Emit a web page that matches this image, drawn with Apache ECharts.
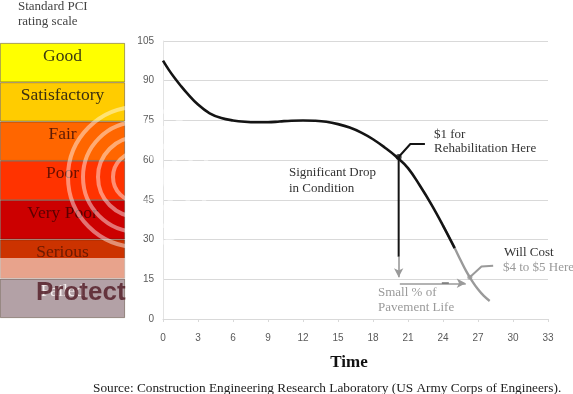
<!DOCTYPE html>
<html><head><meta charset="utf-8">
<script src="https://cdn.jsdelivr.net/npm/echarts@6/dist/echarts.min.js"></script>
<style>html,body{margin:0;padding:0;background:#fff}#c{width:573px;height:394px}</style>
</head><body><div id="c"></div>
<script>
// --- data ---
const timeValues = [0,0.5,1,1.5,2,3,4,5,6,7,8,9,10,11,12,13,14,15,16,17,18,19,20,21,22,23,24,25,25.5,26,26.5,27,27.5,28];
const pciValues  = [97.6,94.1,91,88.2,85.6,81,77.7,75.9,75,74.5,74.3,74.3,74.6,74.9,75,74.9,74.5,73.6,72.3,70.4,67.9,64.8,61.3,57,50.5,43.3,35.3,26.8,22.3,18,14.3,11.2,8.7,6.8];
const ratingLabels = ['Good','Satisfactory','Fair','Poor','Very Poor','Serious','Failed'];
const ratingSpan   = [1,1,1,1,1,1,1];
const rehabPoint   = [20.2, 61.2];
const costPoint    = [26.3, 15.8];
const lifeArrowY   = 13.5;
const dropArrowEnd = 15.8;
const grayFrom     = 25;   // curve turns grey after this time

// --- styles ---
const ratingColors = ['#ffff00','#ffcc00','#ff6600','#ff3300','#cc0000','#cc3300','#b3a1a6'];
const ratingText   = ['#3b3b10','#3b2f10','#5a1a05','#6a1000','#5a0000','#6a1a00','#f6eeee'];
const serif = '"Liberation Serif", "Times New Roman", serif';
const sans = '"Liberation Sans", Arial, sans-serif';

const chart = echarts.init(document.getElementById('c'), null, {renderer:'canvas'});

function txt(text, x, y, size, color){
  return {type:'text', x:x, y:y, z:100, silent:true,
    style:{text:text, font:size+'px '+serif, fill:color, align:'left', verticalAlign:'middle'}};
}

const curve = timeValues.map((t,i)=>[t, pciValues[i]]);
const blackPart = curve.filter(p=>p[0] <= grayFrom);
const grayPart = curve.filter(p=>p[0] >= grayFrom - 1);

const option = {
  animation:false,
  backgroundColor:'#ffffff',
  grid:[
    {left:163, right:25, top:41, bottom:75},
    {left:0, top:43, width:125, height:275}
  ],
  xAxis:[
    {type:'value', gridIndex:0, min:0, max:33, interval:3,
     axisLine:{show:true, onZero:false, lineStyle:{color:'#d9d9d9'}},
     axisTick:{show:true, length:3, lineStyle:{color:'#d9d9d9'}},
     splitLine:{show:false},
     axisLabel:{color:'#5a5a5a', fontSize:10, margin:14, fontFamily:sans}},
    {type:'value', gridIndex:1, min:0, max:1, show:false}
  ],
  yAxis:[
    {type:'value', gridIndex:0, min:0, max:105, interval:15,
     axisLine:{show:true, lineStyle:{color:'#e3e3e3'}},
     axisTick:{show:false},
     splitLine:{show:true, lineStyle:{color:'#d9d9d9', width:1}},
     axisLabel:{color:'#5a5a5a', fontSize:10, margin:9, fontFamily:sans}},
    {type:'category', gridIndex:1, data:ratingLabels, inverse:true, show:false}
  ],
  series:[
    {type:'bar', xAxisIndex:1, yAxisIndex:1, barWidth:'100%', silent:true,
     data: ratingSpan.map((v,i)=>({value:v, itemStyle:{color:ratingColors[i]},
       label:{color:ratingText[i]}})),
     itemStyle:{borderColor:'rgba(60,40,20,0.55)', borderWidth:0.8},
     label:{show:true, position:'insideTop', distance:4, formatter:p=>p.name,
       fontFamily:serif, fontSize:17.5}},
    {type:'line', xAxisIndex:0, yAxisIndex:0, smooth:0.4, showSymbol:false, silent:true, z:2,
     data: grayPart, lineStyle:{width:2.4, color:'#9a9a9a'}},
    {type:'line', xAxisIndex:0, yAxisIndex:0, smooth:0.4, showSymbol:false, silent:true, z:3,
     data: blackPart, lineStyle:{width:2.6, color:'#141414'}},
    {type:'line', showSymbol:false, silent:true, z:3,
     data:[[rehabPoint[0], rehabPoint[1]],[rehabPoint[0], 23.5]],
     lineStyle:{color:'#141414', width:2},
     markLine:{silent:true, symbol:['none','arrow'], symbolSize:[7,9], label:{show:false},
       lineStyle:{color:'#9a9a9a', width:1.6, type:'solid'},
       data:[
         [{coord:[rehabPoint[0], 23.5]},{coord:[rehabPoint[0], dropArrowEnd]}],
         [{coord:[rehabPoint[0]+0.1, lifeArrowY]},{coord:[costPoint[0]-0.35, lifeArrowY]}]
       ]}},
    {type:'line', showSymbol:false, silent:true, z:4,
     data:[[23.9, lifeArrowY],[24.5, lifeArrowY]],
     lineStyle:{color:'#333', width:1.6}},
    {type:'line', showSymbol:false, silent:true, z:4,
     data:[[rehabPoint[0], rehabPoint[1]],[21.2, 66.1],[22.45, 66.1]],
     lineStyle:{color:'#141414', width:2}},
    {type:'line', showSymbol:false, silent:true, z:4,
     data:[[costPoint[0], costPoint[1]],[27.3, 19.8],[28.3, 20.1]],
     lineStyle:{color:'#9a9a9a', width:2}},
    {type:'scatter', silent:true, z:5, symbolSize:6,
     data:[rehabPoint], itemStyle:{color:'#141414'}},
    {type:'scatter', silent:true, z:5, symbolSize:5,
     data:[costPoint], itemStyle:{color:'#9a9a9a'}}
  ],
  graphic:[
    txt('Standard PCI', 18, 7, 13, '#444'),
    txt('rating scale', 18, 22, 13, '#444'),
    txt('$1 for', 434, 135, 13, '#333'),
    txt('Rehabilitation Here', 434, 149, 13, '#333'),
    txt('Significant Drop', 289, 173, 13, '#333'),
    txt('in Condition', 289, 189, 13, '#333'),
    txt('Will Cost', 504, 253, 13, '#333'),
    txt('$4 to $5 Here', 503, 268, 13, '#9a9a9a'),
    txt('Small % of', 378, 293, 13, '#9a9a9a'),
    txt('Pavement Life', 378, 308, 13, '#9a9a9a'),
    {type:'text', x:349, y:363, z:100, silent:true,
     style:{text:'Time', font:'bold 17px '+serif, fill:'#111', align:'center', verticalAlign:'middle'}},
    txt('Source: Construction Engineering Research Laboratory (US Army Corps of Engineers).', 93, 389, 13.3, '#222'),
    // watermark
    {type:'rect', z:90, silent:true, shape:{x:0, y:258, width:125, height:21},
     style:{fill:'rgba(255,255,255,0.55)'}},
    {type:'group', z:90, silent:true, children:[70,55,40,25].map(r=>({type:'circle', z:90,
      shape:{cx:138, cy:177, r:r}, style:{fill:'none', stroke:'rgba(255,255,255,0.45)', lineWidth:4}}))},
    {type:'text', x:36, y:293, z:101, silent:true,
     style:{text:'Protect', font:'bold 26px '+sans, fill:'rgba(80,25,35,0.8)', align:'left', verticalAlign:'middle'}}
  ]
};
chart.setOption(option);
</script></body></html>
